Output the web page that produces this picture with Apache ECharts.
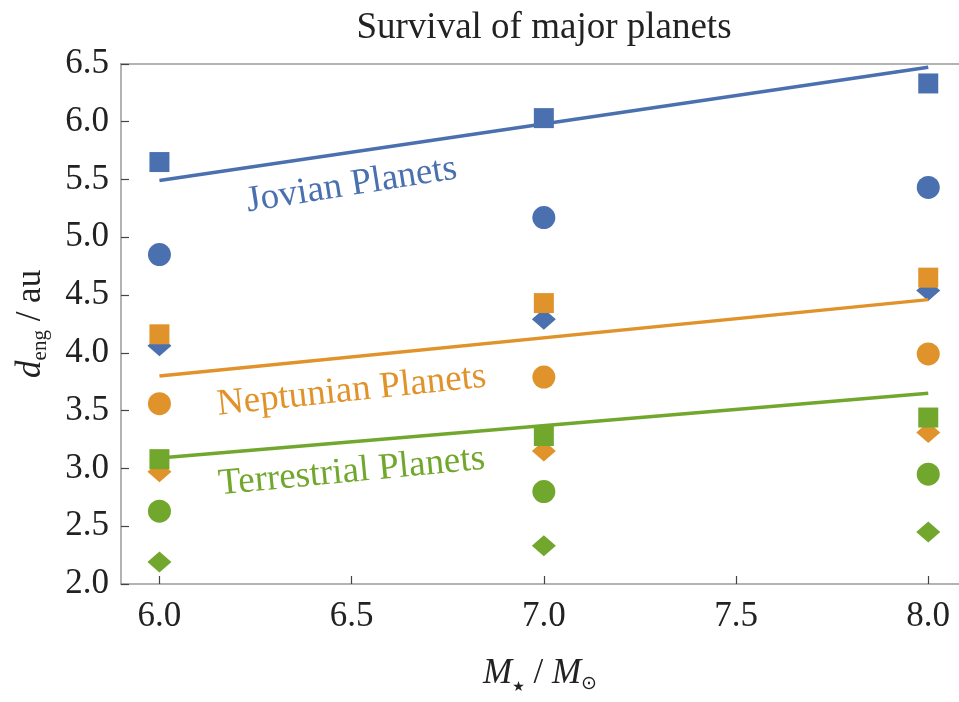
<!DOCTYPE html>
<html>
<head>
<meta charset="utf-8">
<script src="https://cdn.jsdelivr.net/npm/echarts@6/dist/echarts.min.js"></script>
<style>html,body{margin:0;padding:0;background:#fff}#c{width:959px;height:702px}</style>
</head>
<body>
<div id="c"></div>
<script>
// ---- data ----
const masses = [6.0, 7.0, 8.0];
const jovianSquare  = [5.65, 6.03, 6.33];
const jovianCircle  = [4.85, 5.17, 5.43];
const jovianDiamond = [4.06, 4.29, 4.54];
const neptSquare    = [4.16, 4.43, 4.65];
const neptCircle    = [3.56, 3.79, 3.99];
const neptDiamond   = [2.97, 3.15, 3.31];
const terrSquare    = [3.08, 3.28, 3.44];
const terrCircle    = [2.63, 2.80, 2.95];
const terrDiamond   = [2.19, 2.33, 2.45];
const fitX = [6.0, 8.0];
const jovianFit = [5.49, 6.47];
const neptFit   = [3.80, 4.46];
const terrFit   = [3.09, 3.65];
const xTicks = [6.0, 6.5, 7.0, 7.5, 8.0];
const groupNames = ['Jovian Planets', 'Neptunian Planets', 'Terrestrial Planets'];
const labelPos = [[6.5, 5.45], [6.5, 3.67], [6.5, 2.97]];
const labelRot = [9, 6, 5.5];

const BLUE = '#4A70B0', ORANGE = '#E0932A', GREEN = '#72A72E';
const colors = [BLUE, ORANGE, GREEN];
const FONT = 'Liberation Serif';

const pts = ys => masses.map((m, i) => [m, ys[i]]);
const series = [];
const groups = [
  [jovianSquare, jovianCircle, jovianDiamond, jovianFit],
  [neptSquare, neptCircle, neptDiamond, neptFit],
  [terrSquare, terrCircle, terrDiamond, terrFit]
];
groups.forEach((g, k) => {
  const c = colors[k];
  series.push({type:'scatter', name: groupNames[k] + ' diamond', data: pts(g[2]), symbol:'diamond', symbolSize:[24,21], itemStyle:{color:c, opacity:1}, z:2, silent:true});
  series.push({type:'scatter', name: groupNames[k] + ' circle', data: pts(g[1]), symbol:'circle', symbolSize:23, itemStyle:{color:c, opacity:1}, z:3, silent:true});
  series.push({type:'scatter', name: groupNames[k] + ' square', data: pts(g[0]), symbol:'rect', symbolSize:20, itemStyle:{color:c, opacity:1}, z:4, silent:true});
  series.push({type:'line', name: groupNames[k] + ' fit', data: fitX.map((x,i)=>[x, g[3][i]]), showSymbol:false, lineStyle:{color:c, width:3.5}, z:5, silent:true});
  series.push({type:'scatter', name: groupNames[k] + ' label', data:[labelPos[k]], symbolSize:1, itemStyle:{color:'rgba(0,0,0,0)', opacity:1}, z:6, silent:true,
    label:{show:true, position:'inside', formatter: groupNames[k], rotate: labelRot[k], color:c, fontFamily:FONT, fontSize:37}});
});

const axisLineStyle = {color:'#9a9a9a', width:1.5};
const chart = echarts.init(document.getElementById('c'), null, {renderer:'canvas'});
chart.setOption({
  animation:false,
  backgroundColor:'#fff',
  title:{text:'Survival of major planets', left:539, top:5, textAlign:'center',
    textStyle:{fontFamily:FONT, fontWeight:'normal', fontSize:37, color:'#222'}},
  grid:{left:121, top:63.8, bottom:118, right:0, show:false, containLabel:false},
  xAxis:[{type:'value', min:5.9, max:8.08,
    axisLine:{show:true, lineStyle:axisLineStyle},
    axisTick:{show:true, inside:true, length:8, lineStyle:{color:'#444', width:1.2}, customValues: xTicks},
    splitLine:{show:false},
    axisLabel:{fontFamily:FONT, fontSize:35, color:'#222', margin:15, customValues: xTicks,
      formatter: v => v.toFixed(1)},
    name:'{i|M}{s|★} / {i|M}{o|⊙}', nameLocation:'middle', nameGap:70,
    nameTextStyle:{fontFamily:FONT, fontSize:35, color:'#222',
      rich:{i:{fontFamily:FONT, fontStyle:'italic', fontSize:35, lineHeight:40, color:'#222'},
            s:{fontFamily:'DejaVu Sans', fontSize:14, lineHeight:16, verticalAlign:'bottom', color:'#222'},
            o:{fontFamily:'DejaVu Sans', fontSize:19, lineHeight:12, verticalAlign:'bottom', color:'#222'}}}
  },{type:'value', position:'top', min:5.9, max:8.08,
    axisLine:{show:true, lineStyle:axisLineStyle}, axisTick:{show:false}, axisLabel:{show:false}, splitLine:{show:false}
  }],
  yAxis:{type:'value', min:2.0, max:6.5, interval:0.5,
    axisLine:{show:true, lineStyle:axisLineStyle},
    axisTick:{show:true, inside:true, length:8, lineStyle:{color:'#444', width:1.2}},
    splitLine:{show:false},
    axisLabel:{fontFamily:FONT, fontSize:35, color:'#222', margin:12, formatter: v => v.toFixed(1)},
    name:'{i|d}{s|eng} / au', nameLocation:'middle', nameGap:70, nameRotate:90,
    nameTextStyle:{fontFamily:FONT, fontSize:35, color:'#222',
      rich:{i:{fontFamily:FONT, fontStyle:'italic', fontSize:35, lineHeight:40, color:'#222'},
            s:{fontFamily:FONT, fontSize:21, lineHeight:14, verticalAlign:'bottom', color:'#222'}}}
  },
  series: series
});
</script>
</body>
</html>
